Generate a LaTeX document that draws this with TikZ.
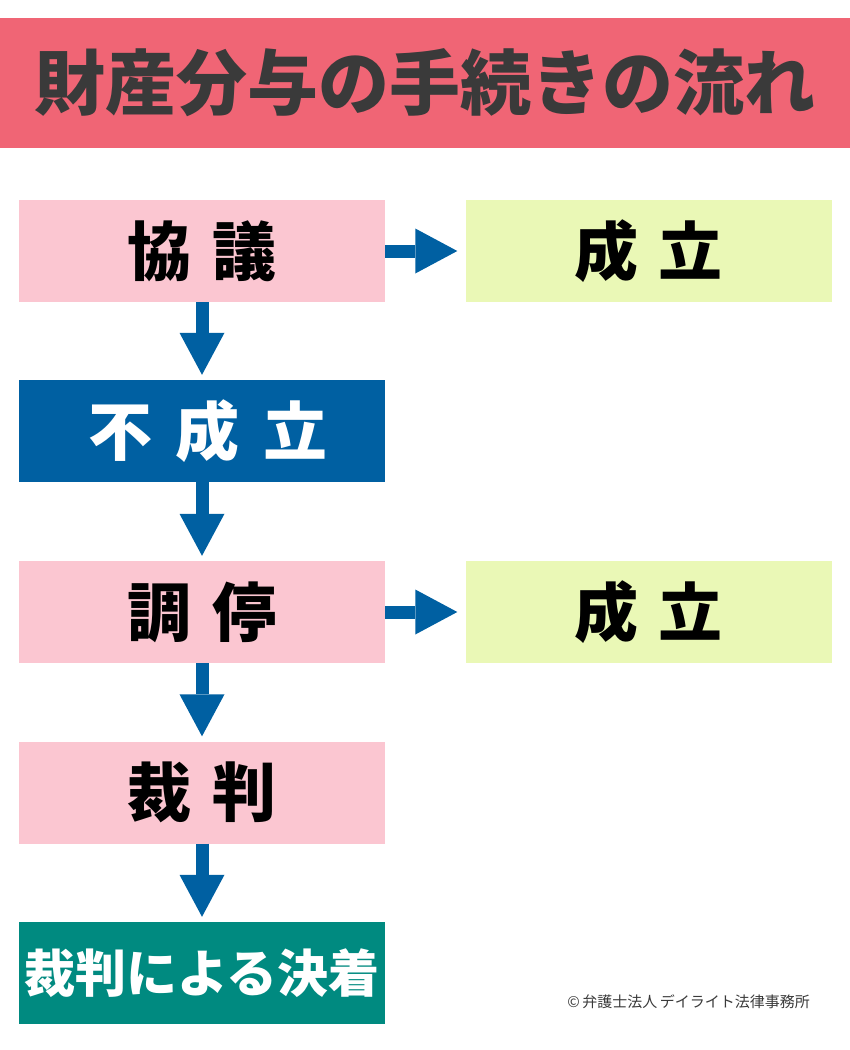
\documentclass[tikz,border=0pt]{standalone}
\usepackage{fontspec}
\usetikzlibrary{arrows.meta}
\newfontfamily\jp{Noto Sans CJK JP}
\definecolor{titlebar}{RGB}{240,101,117}
\definecolor{titletext}{RGB}{58,58,58}
\definecolor{pinkbox}{RGB}{251,198,209}
\definecolor{greenbox}{RGB}{234,248,182}
\definecolor{flowblue}{RGB}{0,96,162}
\definecolor{tealbox}{RGB}{0,138,128}
\begin{document}
\begin{tikzpicture}[x=1pt,y=-1pt,
  stagebox/.style={rectangle,minimum width=366pt,minimum height=102pt,inner sep=0pt,
     font=\jp\bfseries\fontsize{64}{64}\selectfont},
  pinkstage/.style={stagebox,fill=pinkbox,text=black},
  greenstage/.style={stagebox,fill=greenbox,text=black},
  flowarrow/.style={draw=flowblue,line width=13pt,
     -{Triangle[width=45pt,length=42pt,line width=0pt,fill=flowblue]}}]
\useasboundingbox (0,0) rectangle (850,1050);
\node[fill=titlebar,minimum width=850pt,minimum height=130pt,inner sep=0pt,
  text=titletext,font=\jp\bfseries\fontsize{71}{71}\selectfont] (title) at (425,83) {財産分与の手続きの流れ};
\node[pinkstage] (kyogi) at (202,251) {協\hspace{0.32em}議};
\node[greenstage] (seiritsuA) at (648.5,251) {成\hspace{0.32em}立};
\node[stagebox,fill=flowblue,text=white] (fuseiritsu) at (202,431) {\hspace{12pt}不\hspace{0.36em}成\hspace{0.36em}立};
\node[pinkstage] (chotei) at (202,612) {調\hspace{0.32em}停};
\node[greenstage] (seiritsuB) at (648.5,612) {成\hspace{0.32em}立};
\node[pinkstage] (saiban) at (202,792.5) {裁\hspace{0.32em}判};
\node[stagebox,fill=tealbox,text=white,font=\jp\bfseries\fontsize{51}{51}\selectfont] (ketchaku) at (202,973) {裁判による決着};
\node[anchor=east,text=titletext,font=\jp\fontsize{15}{15}\selectfont,inner sep=0pt] (copy) at (810,1002) {©\,弁護士法人\,デイライト法律事務所};
\draw[flowarrow,shorten >=8pt] (kyogi.east) -- (seiritsuA.west);
\draw[flowarrow,shorten >=8pt] (chotei.east) -- (seiritsuB.west);
\draw[flowarrow,shorten >=5pt] (kyogi.south) -- (fuseiritsu.north);
\draw[flowarrow,shorten >=5pt] (fuseiritsu.south) -- (chotei.north);
\draw[flowarrow,shorten >=5pt] (chotei.south) -- (saiban.north);
\draw[flowarrow,shorten >=5pt] (saiban.south) -- (ketchaku.north);
\end{tikzpicture}
\end{document}
